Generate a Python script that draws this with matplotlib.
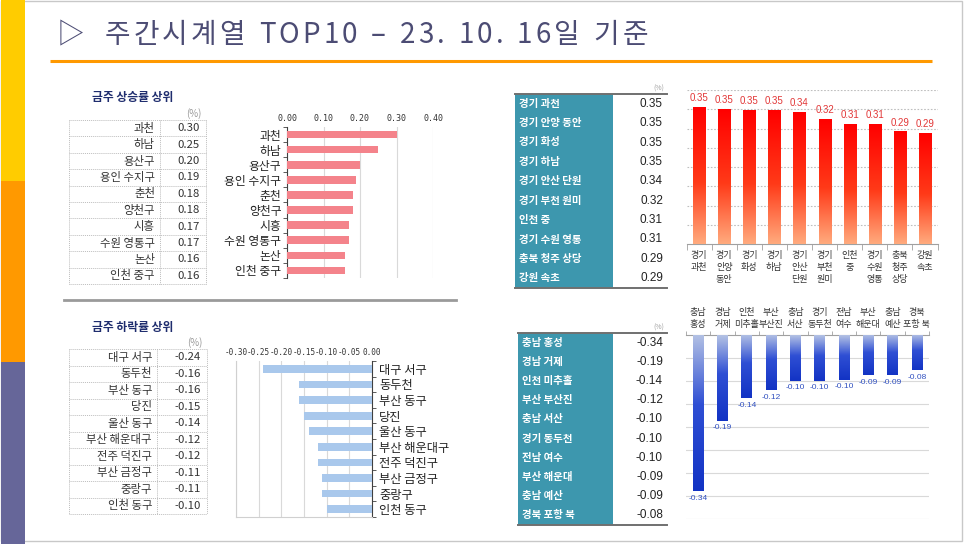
import matplotlib
matplotlib.use('Agg')
import matplotlib.pyplot as plt
import numpy as np
from matplotlib.colors import LinearSegmentedColormap
from matplotlib.patches import Rectangle

plt.rcParams['font.family'] = ['Noto Sans CJK KR', 'DejaVu Sans']
plt.rcParams['axes.unicode_minus'] = False

# ---------------- data ----------------
title = '▷ 주간시계열 TOP10 – 23. 10. 16일 기준'
rise_title = '금주 상승률 상위'
fall_title = '금주 하락률 상위'

rise_names = ['과천', '하남', '용산구', '용인 수지구', '춘천', '양천구', '시흥', '수원 영통구', '논산', '인천 중구']
rise_vals = [0.30, 0.25, 0.20, 0.19, 0.18, 0.18, 0.17, 0.17, 0.16, 0.16]
rise_ticks = [0.00, 0.10, 0.20, 0.30, 0.40]

fall_names = ['대구 서구', '동두천', '부산 동구', '당진', '울산 동구', '부산 해운대구', '전주 덕진구', '부산 금정구', '중랑구', '인천 동구']
fall_vals = [-0.24, -0.16, -0.16, -0.15, -0.14, -0.12, -0.12, -0.11, -0.11, -0.10]
fall_ticks = [-0.30, -0.25, -0.20, -0.15, -0.10, -0.05, 0.00]

top_names = ['경기 과천', '경기 안양 동안', '경기 화성', '경기 하남', '경기 안산 단원',
             '경기 부천 원미', '인천 중', '경기 수원 영통', '충북 청주 상당', '강원 속초']
top_vals = [0.354, 0.350, 0.348, 0.348, 0.342, 0.324, 0.311, 0.311, 0.291, 0.287]

bot_names = ['충남 홍성', '경남 거제', '인천 미추홀', '부산 부산진', '충남 서산',
             '경기 동두천', '전남 여수', '부산 해운대', '충남 예산', '경북 포항 북']
bot_vals = [-0.340, -0.186, -0.138, -0.120, -0.099, -0.099, -0.097, -0.088, -0.088, -0.077]

# ---------------- figure ----------------
W, H = 966, 544
fig = plt.figure(figsize=(W / 100, H / 100), dpi=100, facecolor='white')

bg = fig.add_axes([0, 0, 1, 1])
bg.set_xlim(0, W)
bg.set_ylim(H, 0)
bg.axis('off')


def ax_px(x0, y0, x1, y1):
    return fig.add_axes([x0 / W, 1 - y1 / H, (x1 - x0) / W, (y1 - y0) / H])


# slide frame and side stripe
bg.add_patch(Rectangle((1, 1), 961, 540, fill=False, edgecolor='#c8c8c8', lw=1))
bg.add_patch(Rectangle((1, 0), 24, 181, color='#ffcc00', lw=0))
bg.add_patch(Rectangle((1, 181), 24, 181, color='#ff9900', lw=0))
bg.add_patch(Rectangle((1, 362), 24, 182, color='#666699', lw=0))

# title with letter spacing (characters placed one after another)
renderer = fig.canvas.get_renderer()
cx = 57.0
tracking = 3.3
for i, ch in enumerate(title):
    if ch == ' ':
        cx += 7.0 + tracking
        if i == 1:
            cx += 6
        continue
    t = bg.text(cx, 35, ch, fontsize=20, color='#4c4c74', va='center', ha='left', fontweight='light')
    bb = t.get_window_extent(renderer)
    cx += bb.width + tracking
bg.plot([50, 932], [61, 61], color='#ff9900', lw=2.2, solid_capstyle='butt')

# section headings
bg.text(92, 97, rise_title, fontsize=8.5, fontweight='bold', color='#1f2d6e', va='center')
bg.text(92, 327, fall_title, fontsize=8.5, fontweight='bold', color='#1f2d6e', va='center')
bg.plot([64, 456], [300, 300], color='#9a9a9a', lw=2)

# ---------------- left tables ----------------
def left_table(names, vals, x0, xm, x1, y0, rh):
    n = len(names)
    for i, (nm, v) in enumerate(zip(names, vals)):
        yc = y0 + (i + 0.5) * rh
        bg.text(xm - 5, yc, nm, fontsize=8.2, color='#333333', ha='right', va='center')
        bg.text(x1 - 6, yc, f'{v:.2f}', fontsize=8.2, color='#333333', ha='right', va='center')
    for i in range(n + 1):
        bg.plot([x0, x1], [y0 + i * rh, y0 + i * rh], color='#bdbdbd', lw=0.7, ls=(0, (1, 1)))
    for x in (x0, xm, x1):
        bg.plot([x, x], [y0, y0 + n * rh], color='#bdbdbd', lw=0.7, ls=(0, (1, 1)))
    bg.text(x1 - 12, y0 - 6, '(%)', fontsize=7, color='#9a9a9a', ha='center', va='center')


left_table(rise_names, rise_vals, 69, 160, 206, 120, 16.4)
left_table(fall_names, fall_vals, 69, 157, 207, 349, 16.5)

# ---------------- right tables ----------------
teal = '#3d97ae'


def right_table(names, vals, x0, xm, x1, y0, rh):
    n = len(names)
    bg.add_patch(Rectangle((x0, y0), xm - x0, n * rh, color=teal, lw=0))
    for i, (nm, v) in enumerate(zip(names, vals)):
        yc = y0 + (i + 0.5) * rh
        bg.text(x0 + 4, yc, nm, fontsize=7.5, fontweight='bold', color='white', ha='left', va='center')
        bg.text(x1 - 4, yc, f'{v:.2f}', fontsize=8.5, color='#222222', ha='right', va='center',
                family=['Liberation Sans', 'DejaVu Sans'])
    bg.plot([x0, x1], [y0, y0], color='#707070', lw=1.4)
    bg.plot([x0, x1], [y0 + n * rh, y0 + n * rh], color='#707070', lw=1.4)
    bg.text(x1 - 8, y0 - 5, '(%)', fontsize=5, color='#a0a0a0', ha='center', va='center')


right_table(top_names, top_vals, 515, 613, 667, 94, 19.4)
right_table(bot_names, bot_vals, 518, 613, 667, 333, 19.2)

# ---------------- top-left bar chart ----------------
ax1 = ax_px(287, 127, 433, 278)
y = np.arange(len(rise_vals))
ax1.barh(y, rise_vals, height=0.5, color='#f4838b', zorder=3)
ax1.set_xlim(0, 0.40)
ax1.set_ylim(len(rise_vals) - 0.5, -0.5)
ax1.set_xticks(rise_ticks)
ax1.set_xticklabels([f'{t:.2f}' for t in rise_ticks], fontsize=6, color='#333333',
                    family=['DejaVu Sans Mono', 'DejaVu Sans'])
ax1.xaxis.tick_top()
ax1.tick_params(axis='x', length=0, pad=3)
ax1.set_yticks(y)
ax1.set_yticklabels(rise_names, fontsize=8.5, color='#222222')
ax1.tick_params(axis='y', length=0, pad=4)
ax1.set_yticks(np.arange(-0.5, len(rise_vals)), minor=True)
ax1.tick_params(axis='y', which='minor', length=3, color='#404040')
ax1.grid(axis='x', color='#d9d9d9', lw=0.8, zorder=0)
for s in ('top', 'right', 'bottom'):
    ax1.spines[s].set_visible(False)
ax1.spines['left'].set_color('#404040')

# ---------------- bottom-left bar chart ----------------
ax2 = ax_px(236, 361, 372, 517)
y = np.arange(len(fall_vals))
ax2.barh(y, fall_vals, height=0.5, color='#a9c8ec', zorder=3)
ax2.set_xlim(-0.30, 0.0)
ax2.set_ylim(len(fall_vals) - 0.5, -0.5)
ax2.set_xticks(fall_ticks)
ax2.set_xticklabels([f'{t:.2f}' for t in fall_ticks], fontsize=5.5, color='#333333',
                    family=['DejaVu Sans Mono', 'DejaVu Sans'])
ax2.xaxis.tick_top()
ax2.tick_params(axis='x', length=0, pad=3)
ax2.yaxis.tick_right()
ax2.set_yticks(y)
ax2.set_yticklabels(fall_names, fontsize=8.8, color='#222222')
ax2.tick_params(axis='y', length=0, pad=5)
ax2.set_yticks(np.arange(-0.5, len(fall_vals)), minor=True)
ax2.tick_params(axis='y', which='minor', length=3, color='#404040', right=True, left=False)
ax2.grid(axis='x', color='#d9d9d9', lw=0.8, zorder=0)
ax2.spines['top'].set_visible(False)
ax2.spines['right'].set_color('#404040')
ax2.spines['left'].set_color('#d0d0d0')
ax2.spines['bottom'].set_color('#d0d0d0')

# ---------------- gradient helpers ----------------
red_cmap = LinearSegmentedColormap.from_list('r', [(0, '#ffab7e'), (0.45, '#ff3a18'), (1, '#ff0000')])
blue_cmap = LinearSegmentedColormap.from_list('b', [(0, '#b4c2e4'), (0.45, '#2f4fd4'), (1, '#1233c4')])
grad = np.linspace(0, 1, 256).reshape(-1, 1)


def gradient_bars(ax, bars, cmap):
    for b in bars:
        x0 = b.get_x()
        w = b.get_width()
        h = b.get_height()
        ax.imshow(grad, extent=(x0, x0 + w, 0, h), origin='lower', aspect='auto',
                  cmap=cmap, zorder=3, interpolation='bilinear')
        b.set_visible(False)


# ---------------- top-right column chart ----------------
ax3 = ax_px(686.5, 90, 937.5, 244)
x = np.arange(len(top_vals))
bars = ax3.bar(x, top_vals, width=0.48, color='#ff0000', zorder=3)
gradient_bars(ax3, bars, red_cmap)
ax3.set_xlim(-0.5, len(top_vals) - 0.5)
ax3.set_ylim(0, 0.40)
for g in np.arange(0.05, 0.401, 0.05):
    ax3.axhline(g, color='#bfbfbf', lw=0.8, ls=(0, (1.5, 1.5)), zorder=1)
for i, v in enumerate(top_vals):
    ax3.text(i, v + 0.011, f'{v:.2f}', ha='center', va='bottom', fontsize=7, color='#e23636',
             family=['Liberation Sans', 'DejaVu Sans'])
ax3.set_yticks([])
ax3.set_xticks(x)
ax3.set_xticklabels(['\n'.join(n.split(' ')) for n in top_names], fontsize=6.5,
                    color='#333333', linespacing=1.45, va='top')
ax3.tick_params(axis='x', length=0, pad=5)
ax3.set_xticks(np.arange(-0.5, len(top_vals)), minor=True)
ax3.tick_params(axis='x', which='minor', length=4, color='#a0a0a0')
for s in ('top', 'right', 'left'):
    ax3.spines[s].set_visible(False)
ax3.spines['bottom'].set_color('#a0a0a0')
ax3.patch.set_alpha(0)

# ---------------- bottom-right column chart ----------------
ax4 = ax_px(686, 335, 929, 519)
x = np.arange(len(bot_vals))
bars = ax4.bar(x, bot_vals, width=0.44, color='#1233c4', zorder=3)
gradient_bars(ax4, bars, blue_cmap)
ax4.set_xlim(-0.5, len(bot_vals) - 0.5)
ax4.set_ylim(-0.40, 0)
for g in np.arange(-0.40, -0.01, 0.05):
    ax4.axhline(g, color='#d9d9d9', lw=0.8, zorder=1)
for i, v in enumerate(bot_vals):
    ax4.text(i, v - 0.008, f'{v:.2f}', ha='center', va='top', fontsize=6, color='#3050c0',
             family=['Liberation Sans', 'DejaVu Sans'])
ax4.set_yticks([])
ax4.xaxis.tick_top()
ax4.set_xticks(x)
ax4.set_xticklabels(['\n'.join(n.split(' ', 1)) for n in bot_names], fontsize=6.5,
                    color='#333333', linespacing=1.45)
ax4.tick_params(axis='x', length=0, pad=4)
ax4.set_xticks(np.arange(-0.5, len(bot_vals)), minor=True)
ax4.tick_params(axis='x', which='minor', length=3, color='#a0a0a0', top=True, bottom=False)
for s in ('bottom', 'right', 'left'):
    ax4.spines[s].set_visible(False)
ax4.spines['top'].set_color('#a0a0a0')
ax4.patch.set_alpha(0)

fig.savefig('out.png', dpi=100, facecolor='white')
